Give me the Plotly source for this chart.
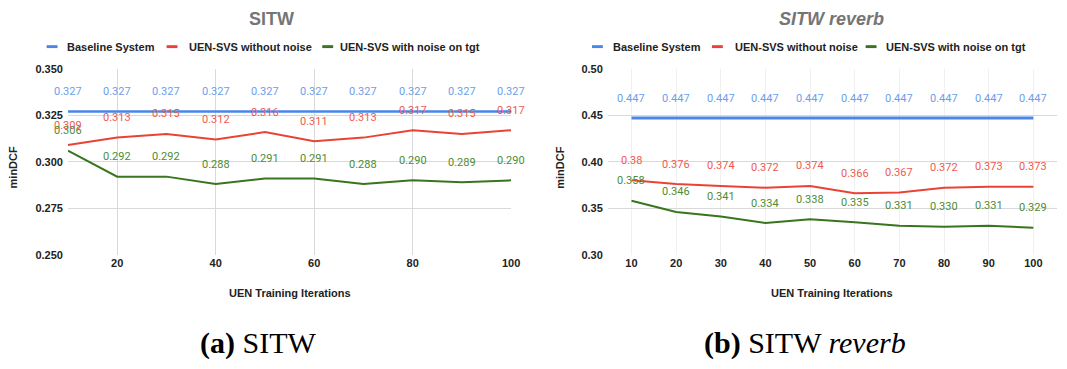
import plotly.graph_objects as go

W, H = 1067, 369

# ---------------- data ----------------
iters = [10, 20, 30, 40, 50, 60, 70, 80, 90, 100]
series_names = ["Baseline System", "UEN-SVS without noise", "UEN-SVS with noise on tgt"]

sitw_baseline = [0.327] * 10
sitw_no_noise = [0.309, 0.313, 0.315, 0.312, 0.316, 0.311, 0.313, 0.317, 0.315, 0.317]
sitw_noise_tgt = [0.306, 0.292, 0.292, 0.288, 0.291, 0.291, 0.288, 0.290, 0.289, 0.290]

rev_baseline = [0.447] * 10
rev_no_noise = [0.380, 0.376, 0.374, 0.372, 0.374, 0.366, 0.367, 0.372, 0.373, 0.373]
rev_noise_tgt = [0.358, 0.346, 0.341, 0.334, 0.338, 0.335, 0.331, 0.330, 0.331, 0.329]

rev_label_text = [["0.447"] * 10,
                  ["0.38", "0.376", "0.374", "0.372", "0.374", "0.366", "0.367", "0.372", "0.373", "0.373"],
                  None]

sitw_xticks = [20, 40, 60, 80, 100]
sitw_yticks = [0.250, 0.275, 0.300, 0.325, 0.350]
rev_yticks = [0.30, 0.35, 0.40, 0.45, 0.50]

# ---------------- style ----------------
line_colors = ["#4A86E8", "#EA4335", "#38761D"]
label_colors = ["#6D9EEB", "#EE5A4F", "#4E8C34"]
line_widths_left = [2.5, 2, 2]
line_widths_right = [3, 2, 2]
SANS = "Liberation Sans, Arial, sans-serif"
LBL = "Roboto, sans-serif"
SERIF = "Liberation Serif, Times New Roman, serif"

def px_x(p):
    return p / W

def px_y(p):
    return 1 - p / H

fig = go.Figure()

left = [sitw_baseline, sitw_no_noise, sitw_noise_tgt]
right = [rev_baseline, rev_no_noise, rev_noise_tgt]

for i, (ys, name) in enumerate(zip(left, series_names)):
    fig.add_trace(go.Scatter(x=iters, y=ys, mode="lines", name=name,
                             line=dict(color=line_colors[i], width=line_widths_left[i]),
                             xaxis="x", yaxis="y", showlegend=False))
for i, (ys, name) in enumerate(zip(right, series_names)):
    fig.add_trace(go.Scatter(x=iters, y=ys, mode="lines", name=name,
                             line=dict(color=line_colors[i], width=line_widths_right[i]),
                             xaxis="x2", yaxis="y2", showlegend=False))

annotations = []
# data labels
for i, ys in enumerate(left):
    for xv, yv in zip(iters, ys):
        annotations.append(dict(x=xv, y=yv, xref="x", yref="y", text=f"{yv:.3f}",
                                showarrow=False, yshift=20, yanchor="middle", xanchor="center",
                                font=dict(family=LBL, size=11, color=label_colors[i])))
for i, ys in enumerate(right):
    for j, (xv, yv) in enumerate(zip(iters, ys)):
        txt = rev_label_text[i][j] if rev_label_text[i] else f"{yv:.3f}"
        annotations.append(dict(x=xv, y=yv, xref="x2", yref="y2", text=txt,
                                showarrow=False, yshift=20, yanchor="middle", xanchor="center",
                                font=dict(family=LBL, size=11, color=label_colors[i])))

def paper_text(xc, yc, text, font, **kw):
    d = dict(x=px_x(xc), y=px_y(yc), xref="paper", yref="paper", text=text,
             showarrow=False, xanchor="center", yanchor="middle", font=font)
    d.update(kw)
    annotations.append(d)

# chart titles
title_font = dict(family=SANS, size=18, color="#757575")
paper_text(274, 13, "<b>SITW</b>", title_font)
paper_text(839, 13, "<b><i>SITW reverb</i></b>", title_font)

# axis titles
axis_font = dict(family=SANS, size=11, color="#222222")
for xc in [292, 839]:
    paper_text(xc, 297, "<b>UEN Training Iterations</b>", axis_font)
for xc in [13, 564]:
    paper_text(xc, 167, "<b>minDCF</b>", axis_font, textangle=-90)

# legends (manual, to match the compact swatches)
shapes = []
legend_left_marker = [47, 168, 325]
legend_left_text = [66, 189, 341]
legend_right_marker = [597, 718, 873]
legend_right_text = [616, 739, 892]
for mk, tx in [(legend_left_marker, legend_left_text), (legend_right_marker, legend_right_text)]:
    for i, name in enumerate(series_names):
        shapes.append(dict(type="rect", xref="paper", yref="paper",
                           x0=px_x(mk[i]), x1=px_x(mk[i] + 11), y0=px_y(43.5), y1=px_y(40.5),
                           fillcolor=line_colors[i], line=dict(width=0)))
        paper_text(tx[i], 42, f"<b>{name}</b>", axis_font, xanchor="left")

# captions
cap_font = dict(family=SERIF, size=30, color="#000000")
paper_text(260, 348, "<b>(a)</b> SITW", cap_font)
paper_text(812, 348, "<b>(b)</b> SITW <i>reverb</i>", cap_font)

ydom = [px_y(257), px_y(65)]
tickfont = dict(family=SANS, size=11, color="#222222", weight="bold")

fig.update_layout(
    width=W, height=H, margin=dict(l=0, r=0, t=0, b=0),
    paper_bgcolor="white", plot_bgcolor="white",
    annotations=annotations, shapes=shapes,
    xaxis=dict(domain=[px_x(68.5), px_x(515.5)], range=[10, 100], tickvals=sitw_xticks,
               showgrid=True, gridcolor="#D9D9D9", gridwidth=1, zeroline=False, showline=False,
               tickfont=tickfont, ticks="", anchor="y"),
    yaxis=dict(domain=ydom, range=[0.25, 0.35], tickvals=sitw_yticks, tickformat=".3f",
               showgrid=True, gridcolor="#D9D9D9", zeroline=False, showline=False,
               tickfont=tickfont, ticks="", anchor="x", ticklabelstandoff=4),
    xaxis2=dict(domain=[px_x(613), px_x(1066)], range=[4.7, 105.3], tickvals=iters,
                showgrid=True, gridcolor="#F0F0F0", zeroline=False, showline=False,
                tickfont=tickfont, ticks="", anchor="y2"),
    yaxis2=dict(domain=ydom, range=[0.30, 0.50], tickvals=rev_yticks, tickformat=".2f",
                showgrid=True, gridcolor="#D9D9D9", zeroline=False, showline=False,
                tickfont=tickfont, ticks="", anchor="x2", ticklabelstandoff=4),
)

fig.write_html("out.html")
